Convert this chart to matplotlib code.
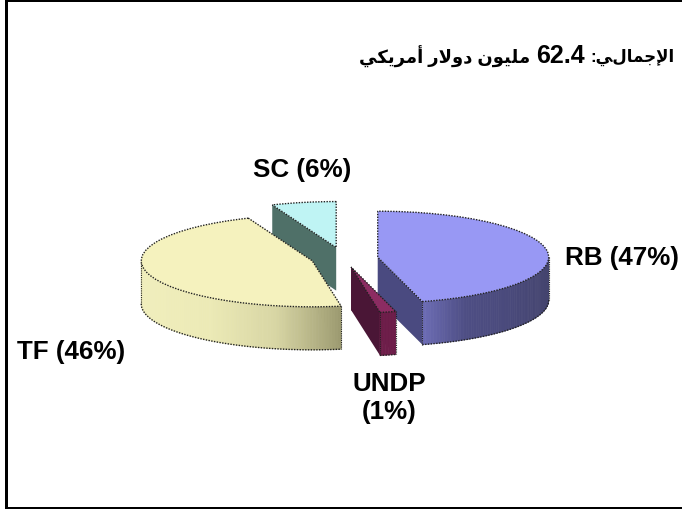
import numpy as np
import matplotlib
matplotlib.use("Agg")
import matplotlib.pyplot as plt
from matplotlib.colors import LinearSegmentedColormap

# ----- Data -----
slice_names = ["RB", "UNDP", "TF", "SC"]
shares = [45.8, 1.5, 46.6, 6.1]  # slice sizes as drawn in the picture

labels = ["RB (47%)", "UNDP\n(1%)", "TF (46%)", "SC (6%)"]

# visual order, shaped forms: matplotlib does no Arabic shaping
title_left = "\ufef2\ufedc\ufef3\ufeae\ufee3\ufe83 \ufead\ufefb\ufeed\ufea9 \ufee5\ufeee\ufef4\ufee0\ufee3"
title_total = "62.4"
title_right = ":\ufef2\ufedd\ufe8e\ufee4\ufe9f\ufef9\ufe8d"

# ----- Style -----
top_colors = ["#9898F4", "#8C2C62", "#F5F2BE", "#BFF4F4"]
cut_colors = ["#4A4A80", "#4A1636", "#9C9A70", "#4F7068"]
arc_colors = [
    ["#6C6CB4", "#4E4E84", "#4A4A7C", "#44446E"],
    ["#6E1E4A", "#6E1E4A"],
    ["#F0EEBC", "#ECEAB6", "#D8D6A4", "#9C9A70"],
    ["#4F7068", "#4F7068"],
]
explode = [34, 33, 33, 41]
draw_order = [3, 0, 2, 1]

W, H = 682, 510
RADIUS = 171
SQUASH = 46 / 171  # pie tilt
DEPTH = 43 / SQUASH
DOTS = (0, (1, 1))
FONT = ["Liberation Sans", "DejaVu Sans"]

fig = plt.figure(figsize=(W / 100, H / 100), dpi=100)
ax = fig.add_axes([0, 0, 1, 1])

wedges, _ = ax.pie(shares, startangle=90, counterclock=False, radius=RADIUS,
                   center=(344, 0), explode=explode, frame=True)
ax.set_aspect("auto")
# y data units are stretched so that the circle shows as a flat ellipse
ax.set_xlim(0, W)
ax.set_ylim(-(H - 259.4) / SQUASH, 259.4 / SQUASH)
ax.axis("off")


def edge(w, deg):
    t = np.deg2rad(deg)
    return w.center[0] + w.r * np.cos(t), w.center[1] + w.r * np.sin(t)


for n, i in enumerate(draw_order):
    w = wedges[i]
    cx, cy = w.center
    base = 10 + 3 * n

    # flat cut faces
    for deg in (w.theta1, w.theta2):
        ex, ey = edge(w, deg)
        ax.fill([cx, ex, ex, cx], [cy, ey, ey - DEPTH, cy - DEPTH],
                color=cut_colors[i], lw=0, zorder=base)

    # curved outer wall, only the part facing us
    cmap = LinearSegmentedColormap.from_list(slice_names[i], arc_colors[i])
    th = np.arange(w.theta1, w.theta2, 1.0)
    th = np.append(th, w.theta2)
    th = th[np.sin(np.deg2rad(th)) <= 0.01]
    if len(th) > 1:
        xs, ys = edge(w, th)
        x_lo, x_hi = xs.min(), xs.max()
        for k in range(len(th) - 1):
            frac = (xs[k] - x_lo) / max(x_hi - x_lo, 1)
            ax.fill([xs[k], xs[k + 1], xs[k + 1], xs[k]],
                    [ys[k], ys[k + 1], ys[k + 1] - DEPTH, ys[k] - DEPTH],
                    color=cmap(frac), lw=0.5, zorder=base + 1)
        ax.plot(xs, ys - DEPTH, color="#222222", lw=1, ls=DOTS, zorder=base + 1)
        ax.plot([xs[0], xs[0]], [ys[0], ys[0] - DEPTH], color="#222222", lw=0.8, ls=DOTS, zorder=base + 1)
        ax.plot([xs[-1], xs[-1]], [ys[-1], ys[-1] - DEPTH], color="#222222", lw=0.8, ls=DOTS, zorder=base + 1)

    w.set_facecolor(top_colors[i])
    w.set_edgecolor("#222222")
    w.set_linewidth(1)
    w.set_linestyle(DOTS)
    w.set_zorder(base + 2)


# ----- Text -----
def put(x, y, s, size=18.7, ha="center"):
    fig.text(x / W, 1 - y / H, s, fontsize=size, fontweight="bold", family=FONT,
             ha=ha, va="center", color="black", linespacing=1.25)


put(622, 258, labels[0])
put(389, 398, labels[1])
put(71, 352, labels[2])
put(302, 170, labels[3])
put(675, 57, title_right, size=12, ha="right")
put(560, 56, title_total, size=18)
put(530, 57, title_left, size=13, ha="right")

# image border: left, top and bottom only
for x, y, bw, bh in [(4.5, 0, 3.2, H), (4.5, 0, W, 2), (4.5, H - 2.5, W, 2.5)]:
    fig.add_artist(plt.Rectangle((x / W, y / H), bw / W, bh / H, transform=fig.transFigure,
                                 color="black", lw=0))

fig.savefig("out.png", dpi=100)
